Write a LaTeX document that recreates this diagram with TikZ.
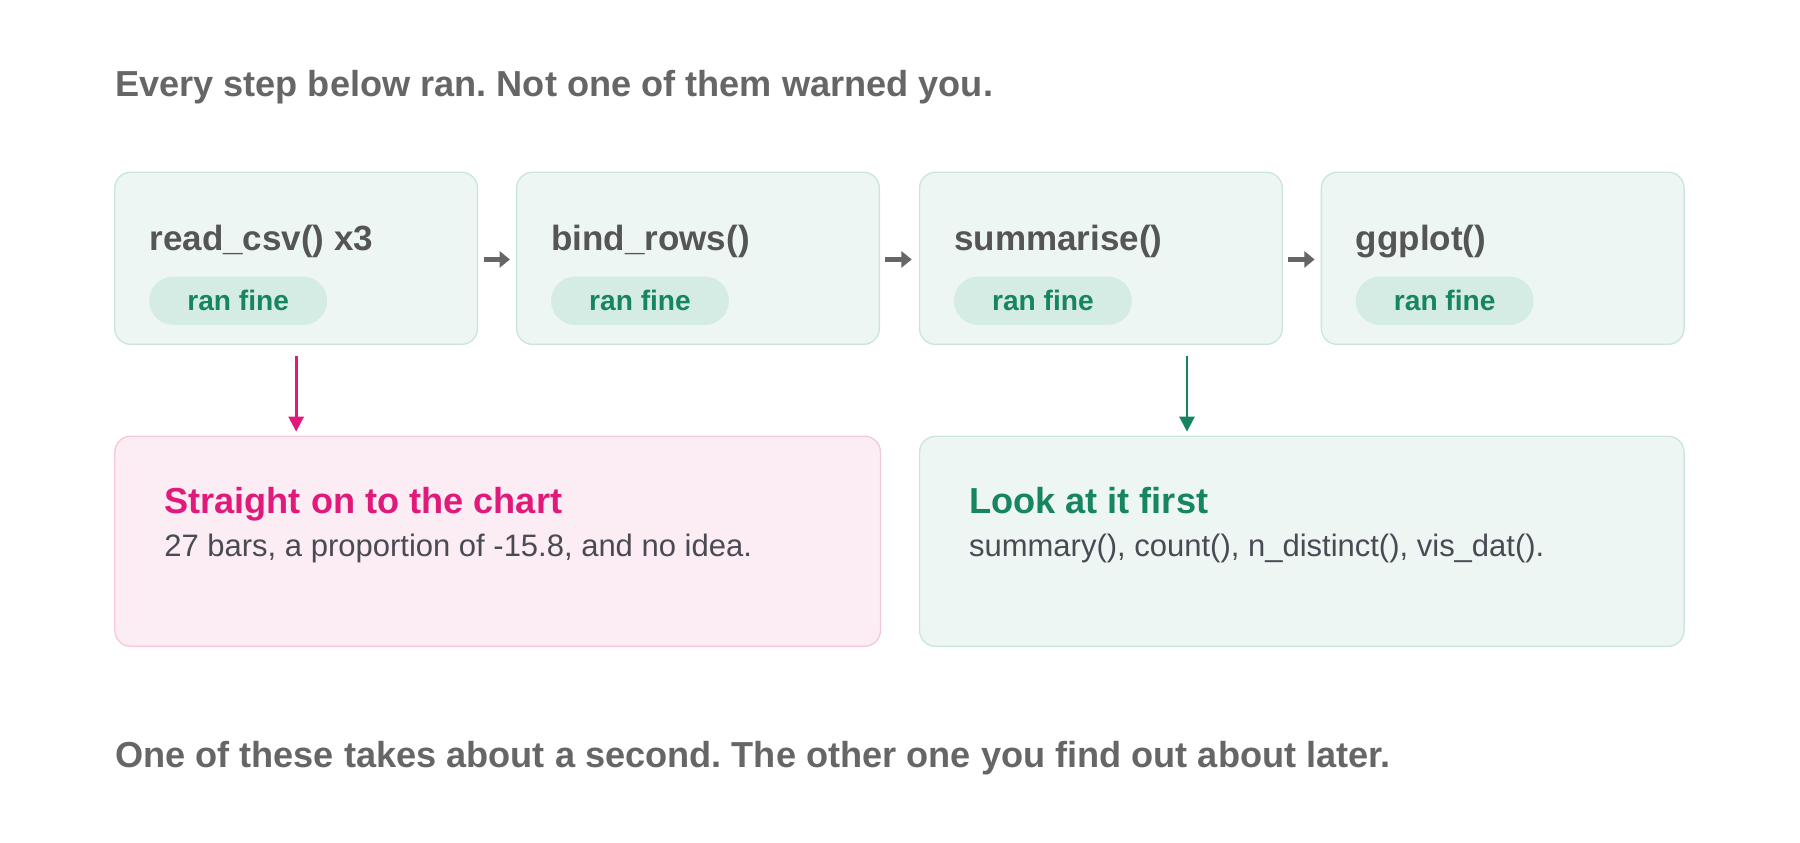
\documentclass[tikz,border=0pt]{standalone}
\usepackage{fontspec}
\setmainfont{Liberation Sans}
\usetikzlibrary{arrows.meta}
\definecolor{txt}{HTML}{666666}
\definecolor{dk}{HTML}{555555}
\definecolor{gfill}{HTML}{EDF6F2}
\definecolor{gline}{HTML}{CDE6DC}
\definecolor{pill}{HTML}{D4ECE3}
\definecolor{grn}{HTML}{178560}
\definecolor{pfill}{HTML}{FCEDF4}
\definecolor{pline}{HTML}{F5C8DC}
\definecolor{pink}{HTML}{E0197A}
\definecolor{body}{HTML}{4A4A55}
\begin{document}
\frenchspacing
\begin{tikzpicture}[x=1pt,y=-1pt,
  stepbox/.style={draw=gline,line width=1.2pt,fill=gfill,rounded corners=14pt},
  steptitle/.style={anchor=base west,inner sep=0pt,font=\fontsize{30.5}{34}\selectfont\bfseries,text=dk},
  pill/.style={fill=pill,rounded corners=21pt,minimum width=155pt,minimum height=42pt,inner sep=0pt,font=\fontsize{24.5}{28}\selectfont\bfseries,text=grn},
  flow/.style={-{Triangle[length=9pt,width=14pt]},line width=4pt,draw=txt},
  heading/.style={anchor=base west,inner sep=0pt,font=\fontsize{31.5}{36}\selectfont\bfseries,text=txt},
  down/.style={-{Triangle[length=13pt,width=13pt]},line width=2.4pt}]
\useasboundingbox (0,0) rectangle (1568,734);
\node[heading] (title) at (100,84) {Every step below ran. Not one of them warned you.};
\foreach \n/\x/\t in {a/100/read\_csv() x3,b/450/bind\_rows(),c/801/summarise(),d/1151/ggplot()}{
  \draw[stepbox] (\x,150) rectangle (\x+316,300);
  \node[inner sep=0pt,minimum width=316pt,minimum height=150pt] (\n) at (\x+158,225) {};
  \node[steptitle] (\n t) at (\x+30,218) {\t};
  \node[pill] (\n p) at (\x+107.5,262) {ran fine};
}
\draw[flow] (a.east) ++(5,1) -- ++(23,0);
\draw[flow] (b.east) ++(5,1) -- ++(23,0);
\draw[flow] (c.east) ++(5,1) -- ++(23,0);
\draw[stepbox,draw=pline,fill=pfill] (100,380) rectangle (767,563);
\draw[stepbox] (801,380) rectangle (1467,563);
\coordinate (s1) at (258,310); \coordinate (e1) at (258,376);
\coordinate (s2) at (1034,310); \coordinate (e2) at (1034,376);
\draw[down,draw=pink] (s1) -- (e1);
\draw[down,draw=grn] (s2) -- (e2);
\node[anchor=base west,inner sep=0pt,font=\fontsize{31.5}{36}\selectfont\bfseries,text=pink] (bt) at (143,447) {Straight on to the chart};
\node[anchor=base west,inner sep=0pt,font=\fontsize{27}{31}\selectfont,text=body] (bb) at (143,485) {27 bars, a proportion of -15.8, and no idea.};
\node[anchor=base west,inner sep=0pt,font=\fontsize{31.5}{36}\selectfont\bfseries,text=grn] (gt) at (844,447) {Look at it first};
\node[anchor=base west,inner sep=0pt,font=\fontsize{27}{31}\selectfont,text=body] (gb) at (844,485) {summary(), count(), n\_distinct(), vis\_dat().};
\node[heading] (foot) at (100,669) {One of these takes about a second. The other one you find out about later.};
\end{tikzpicture}
\end{document}
